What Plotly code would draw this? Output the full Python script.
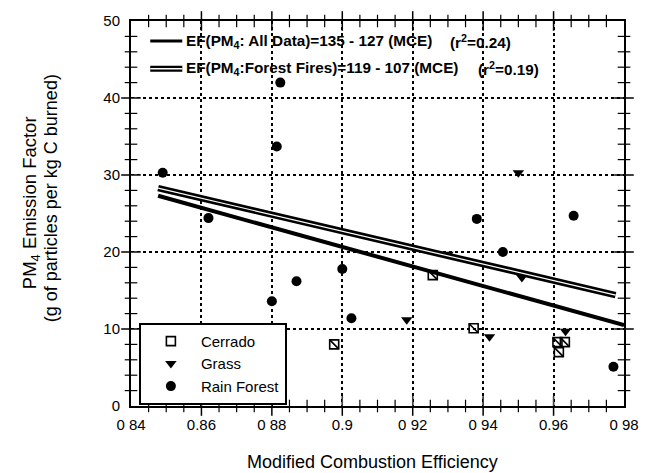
import plotly.graph_objects as go

# ---------------- data ----------------
cerrado_x = [0.8977, 0.9257, 0.9373, 0.9611, 0.9632, 0.9615]
cerrado_y = [8.0, 17.0, 10.1, 8.3, 8.3, 7.0]

grass_x = [0.9183, 0.9300, 0.9418, 0.9500, 0.9510, 0.9634]
grass_y = [11.2, 19.7, 9.0, 30.3, 16.7, 9.7]

forest_x = [0.849, 0.862, 0.880, 0.8814, 0.8824, 0.887, 0.900, 0.9026,
            0.9382, 0.9456, 0.9657, 0.977]
forest_y = [30.3, 24.4, 13.6, 33.7, 42.0, 16.2, 17.8, 11.4,
            24.3, 20.0, 24.7, 5.1]

# regression lines (end points)
fit_all_x = [0.8477, 0.980]
fit_all_y = [27.3, 10.5]
fit_ff_x = [0.8477, 0.9776]
fit_ff_y = [28.3, 14.4]

# tick labels as printed in the figure (default label -> shown label)
x_default_labels = ["0.84", "0.86", "0.88", "0.9", "0.92", "0.94", "0.96", "0.98"]
x_ticktext = ["0 84", "0.86", "0 88", "0.9", "0 92", "0 94", "0.96", "0 98"]

legend_line1 = "<b>EF(PM<sub>4</sub>: All Data)=135 - 127 (MCE)</b>"
legend_r1 = "<b>(r<sup>2</sup>=0.24)</b>"
legend_line2 = "<b>EF(PM<sub>4</sub>:Forest Fires)=119 - 107 (MCE)</b>"
legend_r2 = "<b>(r<sup>2</sup>=0.19)</b>"

FONT = "Liberation Sans, Arial, sans-serif"
X_RANGE = [0.84, 0.98]
Y_RANGE = [0, 50]
X_MAJOR, X_MINOR = 0.02, 0.005
Y_MAJOR, Y_MINOR = 10, 2

# ---------------- figure ----------------
fig = go.Figure()

fig.add_trace(go.Scatter(
    x=cerrado_x, y=cerrado_y, mode="markers", name="Cerrado",
    legend="legend2",
    marker=dict(symbol="square-open", size=9, color="black",
                line=dict(width=1.6, color="black"))))
fig.add_trace(go.Scatter(
    x=cerrado_x, y=cerrado_y, mode="markers", showlegend=False,
    marker=dict(symbol="line-nw", size=9, color="black",
                line=dict(width=1.6, color="black"))))
fig.add_trace(go.Scatter(
    x=grass_x, y=grass_y, mode="markers", name="Grass",
    legend="legend2",
    marker=dict(symbol="triangle-down", size=10, color="black")))
fig.add_trace(go.Scatter(
    x=forest_x, y=forest_y, mode="markers", name="Rain Forest",
    legend="legend2",
    marker=dict(symbol="circle", size=10, color="black")))

fig.add_trace(go.Scatter(
    x=fit_all_x, y=fit_all_y, mode="lines", showlegend=False,
    line=dict(color="black", width=4)))
fig.add_trace(go.Scatter(
    x=fit_ff_x, y=fit_ff_y, mode="lines", showlegend=False,
    line=dict(color="black", width=6.5)))
fig.add_trace(go.Scatter(
    x=fit_ff_x, y=fit_ff_y, mode="lines", showlegend=False,
    line=dict(color="white", width=1.2)))

# tick marks on all four sides drawn as short line markers on the frame
n_x = int(round((X_RANGE[1] - X_RANGE[0]) / X_MINOR))
x_ticks = [round(X_RANGE[0] + i * X_MINOR, 4) for i in range(1, n_x)]
n_y = int(round((Y_RANGE[1] - Y_RANGE[0]) / Y_MINOR))
y_ticks = [Y_RANGE[0] + i * Y_MINOR for i in range(1, n_y)]


def is_major(v, step):
    q = v / step
    return abs(q - round(q)) < 1e-6


for major in (False, True):
    xs = [v for v in x_ticks if is_major(v - X_RANGE[0], X_MAJOR) == major]
    ys = [v for v in y_ticks if is_major(v - Y_RANGE[0], Y_MAJOR) == major]
    size = 14 if major else 9
    width = 1.5 if major else 1.2
    fig.add_trace(go.Scatter(
        x=xs + xs, y=[Y_RANGE[0]] * len(xs) + [Y_RANGE[1]] * len(xs),
        mode="markers", showlegend=False, hoverinfo="skip", cliponaxis=False,
        marker=dict(symbol="line-ns", size=size, color="black",
                    line=dict(width=width, color="black"))))
    fig.add_trace(go.Scatter(
        x=[X_RANGE[0]] * len(ys) + [X_RANGE[1]] * len(ys), y=ys + ys,
        mode="markers", showlegend=False, hoverinfo="skip", cliponaxis=False,
        marker=dict(symbol="line-ew", size=size, color="black",
                    line=dict(width=width, color="black"))))

# main axes: frame, grid and labels
fig.update_layout(
    xaxis=dict(
        range=X_RANGE, tickmode="linear", tick0=X_RANGE[0], dtick=X_MAJOR,
        labelalias=dict(zip(x_default_labels, x_ticktext)),
        showline=True, linecolor="black", linewidth=2, mirror=True,
        ticks="inside", ticklen=9, ticklabelstandoff=4,
        showgrid=True, gridcolor="black", gridwidth=1.6, griddash="dot",
        zeroline=False, tickfont=dict(family=FONT, size=15, color="black")),
    yaxis=dict(
        range=Y_RANGE, tickmode="linear", tick0=Y_RANGE[0], dtick=Y_MAJOR,
        showline=True, linecolor="black", linewidth=2, mirror=True,
        ticks="inside", ticklen=9, ticklabelstandoff=6,
        showgrid=True, gridcolor="black", gridwidth=1.6, griddash="dot",
        zeroline=False, tickfont=dict(family=FONT, size=15, color="black")),
)

# legend-1 (regression lines) built from shapes + annotations
shapes = [
    dict(type="line", xref="paper", yref="paper", x0=0.039, x1=0.104,
         y0=0.948, y1=0.948, line=dict(color="black", width=3)),
    dict(type="line", xref="paper", yref="paper", x0=0.039, x1=0.104,
         y0=0.876, y1=0.876, line=dict(color="black", width=6)),
    dict(type="line", xref="paper", yref="paper", x0=0.039, x1=0.104,
         y0=0.876, y1=0.876, line=dict(color="white", width=1.5)),
]
ann_font = dict(family=FONT, size=15.3, color="black")
annotations = [
    dict(text=legend_line1, x=0.107, y=0.948, xref="paper", yref="paper",
         xanchor="left", yanchor="middle", showarrow=False, font=ann_font),
    dict(text=legend_r1, x=0.644, y=0.948, xref="paper", yref="paper",
         xanchor="left", yanchor="middle", showarrow=False, font=ann_font),
    dict(text=legend_line2, x=0.107, y=0.876, xref="paper", yref="paper",
         xanchor="left", yanchor="middle", showarrow=False, font=ann_font),
    dict(text=legend_r2, x=0.700, y=0.876, xref="paper", yref="paper",
         xanchor="left", yanchor="middle", showarrow=False, font=ann_font),
    dict(text="Modified Combustion Efficiency", x=0.489, y=-0.145,
         xref="paper", yref="paper", xanchor="center", yanchor="middle",
         showarrow=False, font=dict(family=FONT, size=18, color="black")),
    dict(text="PM<sub>4</sub> Emission Factor", x=-0.204, y=0.528,
         xref="paper", yref="paper", xanchor="center", yanchor="middle",
         textangle=-90, showarrow=False,
         font=dict(family=FONT, size=18.5, color="black")),
    dict(text="(g of particles per kg C burned)", x=-0.162, y=0.540,
         xref="paper", yref="paper", xanchor="center", yanchor="middle",
         textangle=-90, showarrow=False,
         font=dict(family=FONT, size=18, color="black")),
]

fig.update_layout(
    width=651, height=473,
    margin=dict(l=131, r=17, t=20, b=67),
    paper_bgcolor="white", plot_bgcolor="white",
    font=dict(family=FONT, color="black"),
    shapes=shapes, annotations=annotations,
    legend2=dict(
        x=0.016, y=0.216, xanchor="left", yanchor="top",
        bgcolor="white", bordercolor="black", borderwidth=2,
        font=dict(family=FONT, size=15, color="black"),
        itemwidth=50, tracegroupgap=0,
    ),
)

fig.write_html("out.html",
               config={"displayModeBar": False},
               post_script="document.body.style.margin='0';")
